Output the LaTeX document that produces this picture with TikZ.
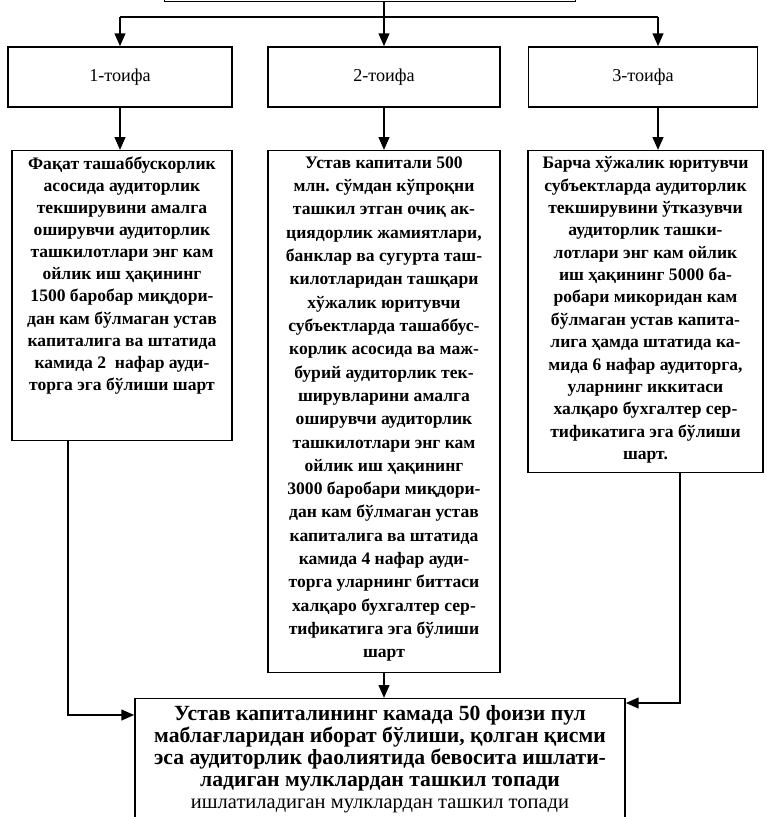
\documentclass[tikz,border=0pt]{standalone}
\usepackage{fontspec}
\setmainfont{Liberation Serif}
\usetikzlibrary{arrows.meta,calc,positioning}

% text block of a box: width, height, line skip, lines
\newcommand{\boxlines}[4]{\parbox[c][#2][t]{#1}{\centering\fontsize{15}{#3}\selectfont\bfseries\vspace*{5pt}#4}}

\begin{document}
\begin{tikzpicture}[x=0.03cm, y=-0.03cm]
		\tikzstyle{every node}=[font=\fontsize{15.5}{18}\selectfont]
		\tikzset{box/.style={draw, line width=1.2pt, inner sep=0pt},
			catbox/.style={box, minimum width=#1, minimum height=1.8cm},
			link/.style={line width=2pt},
			arr/.style={line width=2pt, -{Triangle[length=11pt,width=9pt]}}}
		\useasboundingbox (0,0) rectangle (767,817);
		\node [box, minimum width=12.33cm, minimum height=2cm, anchor=south] (root) at (370,2) {};
		\coordinate (bar) at (0,17);
		\node [catbox=6.72cm] (cat1) at (120,77) {1-тоифа};
		\node [catbox=6.96cm] (cat2) at (384,77) {2-тоифа};
		\node [catbox=6.87cm] (cat3) at (643,77) {3-тоифа};
		\coordinate (c3) at (658,0);
		\node [box, anchor=north] (req1) at (122,150) {\boxlines{6.6cm}{8.7cm}{18.9pt}{%
			Фақат ташаббускорлик\\ асосида аудиторлик\\ текширувини амалга\\
			оширувчи аудиторлик\\ ташкилотлари энг кам\\ ойлик иш ҳақининг\\
			1500 баробар миқдори-\\ дан кам бўлмаган устав\\ капиталига ва штатида\\
			камида 2 \ нафар ауди-\\ торга эга бўлиши шарт}};
		\node [box, anchor=north] (req2) at (384,150) {\boxlines{6.96cm}{15.66cm}{19.9pt}{%
			Устав капитали 500\\ млн. сўмдан кўпроқни\\ ташкил этган очиқ ак-\\
			циядорлик жамиятлари,\\ банклар ва сугурта таш-\\ килотларидан ташқари\\
			хўжалик юритувчи\\ субъектларда ташаббус-\\ корлик асосида ва маж-\\
			бурий аудиторлик тек-\\ ширувларини амалга\\ оширувчи аудиторлик\\
			ташкилотлари энг кам\\ ойлик иш ҳақининг\\ 3000 баробари миқдори-\\
			дан кам бўлмаган устав\\ капиталига ва штатида\\ камида 4 нафар ауди-\\
			торга уларнинг биттаси\\ халқаро бухгалтер сер-\\ тификатига эга бўлиши\\ шарт}};
		\node [box, anchor=north] (req3) at (645.5,150) {\boxlines{7.05cm}{9.66cm}{19.1pt}{%
			Барча хўжалик юритувчи\\ субъектларда аудиторлик\\ текширувини ўтказувчи\\
			аудиторлик ташки-\\ лотлари энг кам ойлик\\ иш ҳақининг 5000 ба-\\
			робари микоридан кам\\ бўлмаган устав капита-\\ лига ҳамда штатида ка-\\
			мида 6 нафар аудиторга,\\ уларнинг иккитаси\\ халқаро бухгалтер сер-\\
			тификатига эга бўлиши\\ шарт.}};
		\node [box, anchor=north] (capital) at (380,698) {\parbox[c][6.06cm][t]{14.7cm}{\centering
			\fontsize{18.5}{18.7pt}\selectfont\lineskiplimit=-6pt\vspace*{6pt}
			{\bfseries Устав капиталининг камада 50 фоизи пул\\ маблағларидан иборат бўлиши, қолган қисми\\
			эса аудиторлик фаолиятида бевосита ишлати-\\ ладиган мулклардан ташкил топади}\\
			{\fontsize{17.5}{18.7pt}\selectfont ишлатиладиган мулклардан ташкил топади}}};
		\coordinate (lft) at (68,715);
		\coordinate (rgt) at (680,703);
		% top bar
		\draw [link] (root.south -| cat2.north) -- (bar -| cat2.north);
		\draw [link] (bar -| cat1.north) -- (bar -| c3);
		\draw [arr] (bar -| cat1.north) -- (cat1.north);
		\draw [arr] (bar -| cat2.north) -- (cat2.north);
		\draw [arr] (bar -| c3) -- (cat3.north -| c3);
		% categories to requirements
		\draw [arr] (cat1.south) -- (cat1.south |- req1.north);
		\draw [arr] (cat2.south) -- (cat2.south |- req2.north);
		\draw [arr] (cat3.south -| c3) -- (req3.north -| c3);
		% requirements to capital
		\draw [arr] (req1.south -| lft) |- (lft -| capital.west);
		\draw [arr] (req2.south) -- (req2.south |- capital.north);
		\draw [arr] (req3.south -| rgt) |- (rgt -| capital.east);
\end{tikzpicture}
\end{document}
